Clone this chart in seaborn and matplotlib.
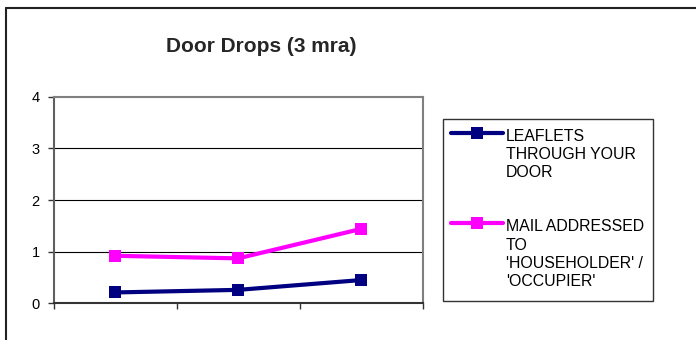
import matplotlib
matplotlib.use("Agg")
import matplotlib.pyplot as plt
from matplotlib.lines import Line2D
from matplotlib.patches import Rectangle
import seaborn as sns
import pandas as pd

# Survey waves (unlabelled on the chart) and the two door-drop series
periods = [0, 1, 2]
leaflets = [0.21, 0.26, 0.45]
mail_addressed = [0.92, 0.87, 1.44]
series_names = ["LEAFLETS\nTHROUGH YOUR\nDOOR",
                "MAIL ADDRESSED\nTO\n'HOUSEHOLDER' /\n'OCCUPIER'"]
series_colors = ["#000080", "#FF00FF"]
y_ticks = [0, 1, 2, 3, 4]
title = "Door Drops (3 mra)"

df = pd.DataFrame({
    "period": periods * 2,
    "value": leaflets + mail_addressed,
    "series": [series_names[0]] * 3 + [series_names[1]] * 3,
})

sns.set_theme(style="white")
plt.rcParams["font.family"] = ["Liberation Sans", "DejaVu Sans"]

W, H = 696, 340
fig = plt.figure(figsize=(W / 100, H / 100), dpi=100)
fig.patch.set_facecolor("white")

# plot area in pixel coordinates
x0, x1 = 53.5, 422.7
yt, yb = 96.7, 303.3
ax = fig.add_axes([x0 / W, 1 - yb / H, (x1 - x0) / W, (yb - yt) / H])

sns.lineplot(data=df, x="period", y="value", hue="series",
             palette=dict(zip(series_names, series_colors)),
             style="series", markers=["s", "s"], dashes=False,
             linewidth=3, markersize=8, markeredgewidth=0,
             legend=False, ax=ax)

ax.set_xlim(-0.5, 2.5)
ax.set_ylim(0, 4)
ax.set_yticks(y_ticks)
ax.set_yticklabels([str(v) for v in y_ticks], fontsize=10.5)
ax.set_xticks([-0.5, 0.5, 1.5, 2.5])
ax.set_xticklabels([])
ax.set_xlabel("")
ax.set_ylabel("")
ax.tick_params(axis="both", direction="out", length=4, width=1,
               color="#333333", labelcolor="black")
ax.tick_params(axis="y", pad=6, left=True)
ax.tick_params(axis="x", bottom=True)
for v in y_ticks[1:-1]:
    ax.axhline(v, color="black", linewidth=0.8, zorder=0)

ax.spines["top"].set_color("#808080")
ax.spines["right"].set_color("#808080")
ax.spines["left"].set_color("#606060")
ax.spines["bottom"].set_color("#333333")
for s in ax.spines.values():
    s.set_linewidth(1.5)
    s.set_visible(True)

# outer chart frame (top and left edges)
fig.add_artist(Line2D([6 / W, 1], [1 - 7.8 / H, 1 - 7.8 / H],
                      transform=fig.transFigure, color="#222222", linewidth=1.5))
fig.add_artist(Line2D([6 / W, 6 / W], [0, 1 - 7.8 / H],
                      transform=fig.transFigure, color="#222222", linewidth=1.5))

# title
fig.text(261 / W, 1 - 47 / H, title, ha="center", va="center",
         fontsize=15, fontweight="bold")

# legend box
lx0, lx1, ly0, ly1 = 443, 653, 119.5, 300.7
fig.add_artist(Rectangle((lx0 / W, 1 - ly1 / H), (lx1 - lx0) / W, (ly1 - ly0) / H,
                         transform=fig.transFigure, facecolor="white",
                         edgecolor="#333333", linewidth=1))
entry_y = [132.7, 223.3]
for name, color, yy in zip(series_names, series_colors, entry_y):
    fig.add_artist(Line2D([451 / W, 503 / W], [1 - yy / H, 1 - yy / H],
                          transform=fig.transFigure, color=color, linewidth=3,
                          solid_capstyle="round"))
    fig.add_artist(Line2D([477 / W], [1 - yy / H], transform=fig.transFigure,
                          color=color, marker="s", markersize=8,
                          markeredgewidth=0, linestyle="none"))
    fig.text(506 / W, 1 - (yy - 4) / H, name, ha="left", va="top",
             fontsize=11.4, linespacing=1.27, color="black")

fig.savefig("out.png", dpi=100, facecolor="white")
